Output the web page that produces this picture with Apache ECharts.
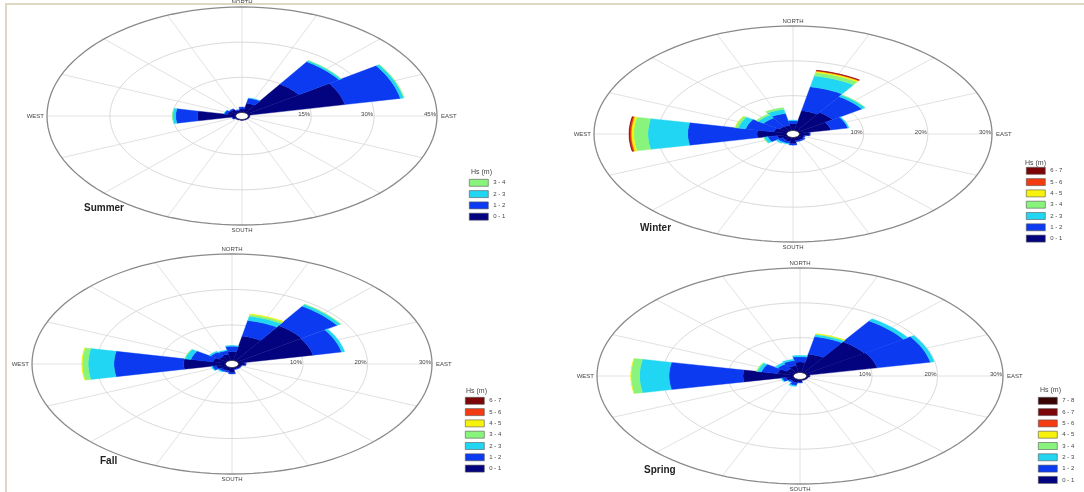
<!DOCTYPE html>
<html><head><meta charset="utf-8">
<script src="https://cdn.jsdelivr.net/npm/echarts@6/dist/echarts.min.js"></script>
<style>html,body{margin:0;padding:0;background:#fff}#c{width:1084px;height:492px}</style>
</head><body><div id="c"></div>
<script>
// ---------------- DATA ----------------
const directions = ['N','NNE','NE','ENE','E','ESE','SE','SSE','S','SSW','SW','WSW','W','WNW','NW','NNW'];
const compassLabels = ['NORTH','EAST','SOUTH','WEST'];
const seasons = ['Summer','Winter','Fall','Spring'];
const legendTitle = 'Hs (m)';
const binsSummer = ['0 - 1','1 - 2','2 - 3','3 - 4'];
const binsWinter = ['0 - 1','1 - 2','2 - 3','3 - 4','4 - 5','5 - 6','6 - 7'];
const binsFall   = ['0 - 1','1 - 2','2 - 3','3 - 4','4 - 5','5 - 6','6 - 7'];
const binsSpring = ['0 - 1','1 - 2','2 - 3','3 - 4','4 - 5','5 - 6','6 - 7','7 - 8'];
const ticksSummer = [15, 30, 45];
const ticksWinter = [10, 20, 30];
const ticksFall   = [10, 20, 30];
const ticksSpring = [10, 20, 30];
// frequency (%) : one row per Hs bin, columns follow `directions`
const freqSummer = [
  [1.5, 4.0, 14.8, 23.5, 0.4, 0.3, 0.3, 0.3, 0.4, 0.3, 0.3, 0.8, 9.1, 2.0, 1.8, 1.0],
  [0.8, 2.2, 11.5, 13.5, 0.0, 0.0, 0.0, 0.0, 0.0, 0.0, 0.1, 0.2, 5.2, 0.8, 0.4, 0.3],
  [0.0, 0.1, 0.6, 0.8, 0.0, 0.0, 0.0, 0.0, 0.0, 0.0, 0.0, 0.0, 0.7, 0.1, 0.0, 0.0],
  [0.0, 0.0, 0.05, 0.15, 0.0, 0.0, 0.0, 0.0, 0.0, 0.0, 0.0, 0.0, 0.1, 0.0, 0.0, 0.0]
];
const freqWinter = [
  [2.0, 5.8, 6.4, 5.0, 1.5, 0.8, 1.0, 1.0, 1.8, 1.2, 1.0, 1.5, 4.6, 2.0, 1.5, 1.5],
  [0.8, 7.0, 5.5, 2.7, 0.2, 0.2, 0.3, 0.3, 0.4, 0.6, 0.8, 1.5, 10.8, 4.5, 3.0, 3.5],
  [0.2, 3.2, 0.6, 0.2, 0.0, 0.0, 0.0, 0.0, 0.0, 0.2, 0.4, 0.6, 6.2, 1.2, 1.0, 1.2],
  [0.0, 1.0, 0.1, 0.0, 0.0, 0.0, 0.0, 0.0, 0.0, 0.0, 0.0, 0.1, 2.2, 0.5, 0.4, 0.5],
  [0.0, 0.4, 0.0, 0.0, 0.0, 0.0, 0.0, 0.0, 0.0, 0.0, 0.0, 0.0, 0.4, 0.05, 0.0, 0.0],
  [0.0, 0.2, 0.0, 0.0, 0.0, 0.0, 0.0, 0.0, 0.0, 0.0, 0.0, 0.0, 0.25, 0.0, 0.0, 0.0],
  [0.0, 0.05, 0.0, 0.0, 0.0, 0.0, 0.0, 0.0, 0.0, 0.0, 0.0, 0.0, 0.1, 0.0, 0.0, 0.0]
];
const freqFall = [
  [2.5, 7.0, 12.0, 11.8, 1.0, 0.5, 0.5, 0.5, 1.5, 1.0, 1.0, 1.5, 6.5, 2.0, 1.5, 1.8],
  [1.5, 4.5, 6.6, 4.5, 0.2, 0.1, 0.1, 0.1, 0.3, 0.4, 0.5, 0.6, 10.8, 3.5, 1.5, 1.0],
  [0.2, 1.2, 0.6, 0.5, 0.0, 0.0, 0.0, 0.0, 0.0, 0.0, 0.2, 0.2, 4.0, 0.9, 0.3, 0.2],
  [0.0, 0.5, 0.1, 0.0, 0.0, 0.0, 0.0, 0.0, 0.0, 0.0, 0.0, 0.0, 0.9, 0.1, 0.0, 0.0],
  [0.0, 0.2, 0.0, 0.0, 0.0, 0.0, 0.0, 0.0, 0.0, 0.0, 0.0, 0.0, 0.1, 0.0, 0.0, 0.0],
  [0.0, 0.0, 0.0, 0.0, 0.0, 0.0, 0.0, 0.0, 0.0, 0.0, 0.0, 0.0, 0.0, 0.0, 0.0, 0.0],
  [0.0, 0.0, 0.0, 0.0, 0.0, 0.0, 0.0, 0.0, 0.0, 0.0, 0.0, 0.0, 0.0, 0.0, 0.0, 0.0]
];
const freqSpring = [
  [3.0, 5.4, 10.8, 11.0, 0.5, 0.3, 0.3, 0.3, 0.8, 1.0, 0.8, 1.2, 7.7, 2.5, 1.5, 2.0],
  [1.5, 5.1, 7.2, 8.3, 0.0, 0.0, 0.0, 0.0, 0.2, 0.8, 0.4, 0.6, 11.3, 2.5, 1.6, 1.5],
  [0.4, 0.6, 0.8, 0.6, 0.0, 0.0, 0.0, 0.0, 0.0, 0.3, 0.1, 0.2, 4.5, 0.6, 0.5, 0.4],
  [0.0, 0.2, 0.0, 0.0, 0.0, 0.0, 0.0, 0.0, 0.0, 0.0, 0.0, 0.0, 1.3, 0.2, 0.0, 0.0],
  [0.0, 0.1, 0.0, 0.0, 0.0, 0.0, 0.0, 0.0, 0.0, 0.0, 0.0, 0.0, 0.05, 0.0, 0.0, 0.0],
  [0.0, 0.0, 0.0, 0.0, 0.0, 0.0, 0.0, 0.0, 0.0, 0.0, 0.0, 0.0, 0.0, 0.0, 0.0, 0.0],
  [0.0, 0.0, 0.0, 0.0, 0.0, 0.0, 0.0, 0.0, 0.0, 0.0, 0.0, 0.0, 0.0, 0.0, 0.0, 0.0],
  [0.0, 0.0, 0.0, 0.0, 0.0, 0.0, 0.0, 0.0, 0.0, 0.0, 0.0, 0.0, 0.0, 0.0, 0.0, 0.0]
];

// ---------------- STYLE / LAYOUT ----------------
const binColors = {
  '0 - 1':'#03037f','1 - 2':'#0b3af0','2 - 3':'#20d6f3','3 - 4':'#88f47c',
  '4 - 5':'#f6f20c','5 - 6':'#f43a10','6 - 7':'#7c0507','7 - 8':'#3a0303'
};
const FONT = '"Liberation Sans", Arial, sans-serif';
const panels = [
  {name: seasons[0], bins: binsSummer, freq: freqSummer, ticks: ticksSummer, hole: 1.5,
   grid: {left: 47, top: 7, width: 390, height: 218},
   title: {left: 84, top: 203}, lgTitle: {left: 471, top: 169}, legend: {left: 469, top: 179}},
  {name: seasons[1], bins: binsWinter, freq: freqWinter, ticks: ticksWinter, hole: 1.0,
   grid: {left: 594, top: 26, width: 398, height: 216},
   title: {left: 640, top: 223}, lgTitle: {left: 1025, top: 160}, legend: {left: 1026, top: 167}},
  {name: seasons[2], bins: binsFall, freq: freqFall, ticks: ticksFall, hole: 1.0,
   grid: {left: 32, top: 254, width: 400, height: 220},
   title: {left: 100, top: 456}, lgTitle: {left: 466, top: 388}, legend: {left: 465, top: 397}},
  {name: seasons[3], bins: binsSpring, freq: freqSpring, ticks: ticksSpring, hole: 1.0,
   grid: {left: 597, top: 268, width: 406, height: 216},
   title: {left: 644, top: 465}, lgTitle: {left: 1040, top: 387}, legend: {left: 1038, top: 397}}
];

const D2R = Math.PI / 180;
const SECTOR = 360 / directions.length;

function sectorRenderer(hole, color) {
  return function (params, api) {
    const dir = api.value(0), base = api.value(1), val = api.value(2);
    if (!(val > 0)) return;
    const thc = (90 - dir * SECTOR) * D2R, half = SECTOR / 2 * D2R;
    const r0 = hole + base, r1 = hole + base + val;
    const pts = [], n = 12;
    for (let i = 0; i <= n; i++) { const t = thc - half + 2 * half * i / n; pts.push(api.coord([r1 * Math.cos(t), r1 * Math.sin(t)])); }
    for (let i = n; i >= 0; i--) { const t = thc - half + 2 * half * i / n; pts.push(api.coord([r0 * Math.cos(t), r0 * Math.sin(t)])); }
    return {type: 'polygon', shape: {points: pts}, style: {fill: color, stroke: color, lineWidth: 0.4}};
  };
}

function ringPoints(api, r) {
  const pts = [];
  for (let a = 0; a <= 360; a += 3) pts.push(api.coord([r * Math.cos(a * D2R), r * Math.sin(a * D2R)]));
  return pts;
}

function frameRenderer(p) {
  return function (params, api) {
    const R = p.ticks[p.ticks.length - 1] + p.hole;
    const kids = [];
    directions.forEach((d, i) => {
      const t = (90 - i * SECTOR) * D2R;
      const a = api.coord([0, 0]), b = api.coord([R * Math.cos(t), R * Math.sin(t)]);
      kids.push({type: 'line', shape: {x1: a[0], y1: a[1], x2: b[0], y2: b[1]}, style: {stroke: '#e2e2e2', lineWidth: 1}});
    });
    p.ticks.forEach((tk, i) => {
      const last = i === p.ticks.length - 1;
      kids.push({type: 'polyline', shape: {points: ringPoints(api, p.hole + tk)},
        style: {stroke: last ? '#8a8a8a' : '#dadada', lineWidth: last ? 1.3 : 1, fill: null}});
      const c = api.coord([p.hole + tk, 0]);
      kids.push({type: 'text', style: {text: tk + '%', x: c[0] - 1, y: c[1] - 2, fill: '#444',
        font: '6px ' + FONT, textAlign: 'right', align: 'right', textVerticalAlign: 'middle', verticalAlign: 'middle'}});
    });
    const n = api.coord([0, R]), e = api.coord([R, 0]), s = api.coord([0, -R]), w = api.coord([-R, 0]);
    const lab = (txt, x, y, ha, va) => ({type: 'text', style: {text: txt, x: x, y: y, fill: '#444', font: '6px ' + FONT,
      textAlign: ha, align: ha, textVerticalAlign: va, verticalAlign: va}});
    kids.push(lab(compassLabels[0], n[0], n[1] - 2, 'center', 'bottom'));
    kids.push(lab(compassLabels[1], e[0] + 4, e[1], 'left', 'middle'));
    kids.push(lab(compassLabels[2], s[0], s[1] + 2, 'center', 'top'));
    kids.push(lab(compassLabels[3], w[0] - 3, w[1], 'right', 'middle'));
    return {type: 'group', children: kids};
  };
}

function holeRenderer(p) {
  return function (params, api) {
    return {type: 'polygon', shape: {points: ringPoints(api, p.hole)}, style: {fill: '#fff', stroke: '#1a1a3a', lineWidth: 1}};
  };
}

const option = {
  animation: false,
  backgroundColor: '#fff',
  grid: [], xAxis: [], yAxis: [], series: [], legend: [], title: [],
  graphic: [
    {type: 'rect', z: 100, shape: {x: 5, y: 3, width: 1079, height: 2}, style: {fill: '#dcd8c4'}},
    {type: 'rect', z: 100, shape: {x: 5, y: 3, width: 2, height: 489}, style: {fill: '#dcd8c4'}}
  ]
};

panels.forEach((p, gi) => {
  const R = p.ticks[p.ticks.length - 1] + p.hole;
  option.grid.push(Object.assign({containLabel: false}, p.grid));
  option.xAxis.push({type: 'value', gridIndex: gi, min: -R, max: R, show: false, splitLine: {show: false}});
  option.yAxis.push({type: 'value', gridIndex: gi, min: -R, max: R, show: false, splitLine: {show: false}});
  option.series.push({type: 'custom', name: p.name + ' frame', silent: true, xAxisIndex: gi, yAxisIndex: gi, z: 1,
    data: [[0, 0]], renderItem: frameRenderer(p)});
  const cum = directions.map(() => 0);
  p.bins.forEach((bin, k) => {
    const data = p.freq[k].map((v, i) => [i, cum[i], v]);
    p.freq[k].forEach((v, i) => { cum[i] += v; });
    option.series.push({type: 'custom', name: bin, xAxisIndex: gi, yAxisIndex: gi, z: 2, silent: true,
      itemStyle: {color: binColors[bin]}, data: data, renderItem: sectorRenderer(p.hole, binColors[bin])});
  });
  option.series.push({type: 'custom', name: p.name + ' hole', silent: true, xAxisIndex: gi, yAxisIndex: gi, z: 3,
    data: [[0, 0]], renderItem: holeRenderer(p)});
  option.title.push({text: p.name, left: p.title.left, top: p.title.top, padding: 0,
    textStyle: {fontSize: 10, fontWeight: 'bold', color: '#222', fontFamily: FONT}});
  option.title.push({text: legendTitle, left: p.lgTitle.left, top: p.lgTitle.top, padding: 0,
    textStyle: {fontSize: 7, fontWeight: 'normal', color: '#444', fontFamily: FONT}});
  option.legend.push({orient: 'vertical', left: p.legend.left, top: p.legend.top, padding: 0,
    data: p.bins.slice().reverse(), icon: 'rect', itemWidth: 19, itemHeight: 7, itemGap: 3.7,
    selectedMode: false, itemStyle: {borderColor: '#555', borderWidth: 0.6},
    textStyle: {fontSize: 6, color: '#444', lineHeight: 7, fontFamily: FONT}});
});

const chart = echarts.init(document.getElementById('c'), null, {renderer: 'canvas'});
chart.setOption(option);
</script>
</body></html>
